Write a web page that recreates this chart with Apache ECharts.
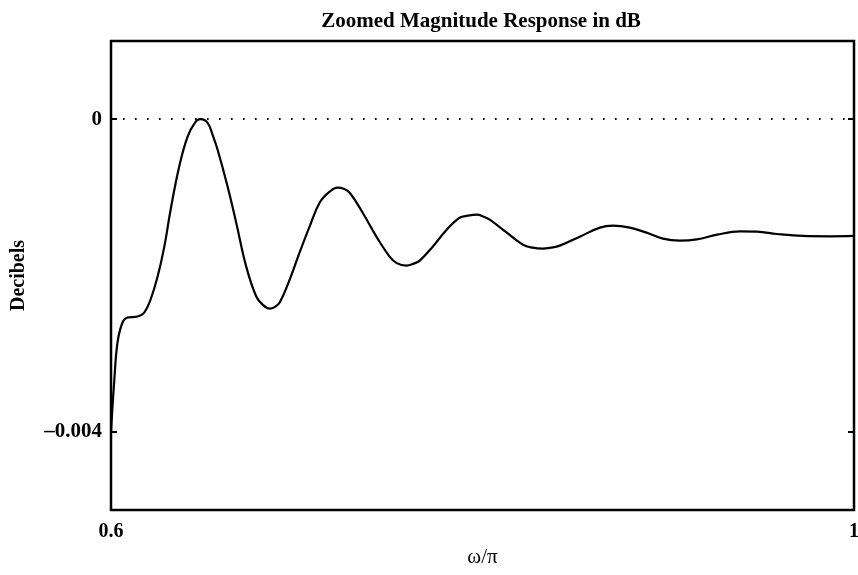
<!DOCTYPE html>
<html>
<head>
<meta charset="utf-8">
<script src="https://cdn.jsdelivr.net/npm/echarts@6/dist/echarts.min.js"></script>
<style>
  html, body { margin: 0; padding: 0; background: #ffffff; }
  #chart { width: 858px; height: 575px; }
</style>
</head>
<body>
<div id="chart"></div>
<script>
// Normalised frequency (ω/π) samples of the passband edge
const freq = [
  0.6000, 0.6017, 0.6035, 0.6062, 0.6089, 0.6143, 0.6179, 0.6213, 0.6251, 0.6287,
  0.6321, 0.6367, 0.6412, 0.6455, 0.6482, 0.6520, 0.6547, 0.6574, 0.6628, 0.6674,
  0.6728, 0.6782, 0.6816, 0.6854, 0.6881, 0.6908, 0.6962, 0.7015, 0.7069, 0.7123,
  0.7177, 0.7220, 0.7252, 0.7285, 0.7355, 0.7429, 0.7500, 0.7538, 0.7590, 0.7630,
  0.7662, 0.7732, 0.7807, 0.7877, 0.7920, 0.7969, 0.8007, 0.8039, 0.8131, 0.8217,
  0.8270, 0.8324, 0.8368, 0.8416, 0.8524, 0.8632, 0.8702, 0.8793, 0.8883, 0.8971,
  0.9062, 0.9154, 0.9262, 0.9385, 0.9477, 0.9585, 0.9725, 0.9870, 1.0000
];

// Magnitude response in dB at those frequencies
const magDb = [
  -0.004000, -0.003368, -0.002857, -0.002601, -0.002538, -0.002525, -0.002474, -0.002308, -0.002014, -0.001631,
  -0.001158, -0.000609, -0.000226, -0.000034,  0.000000, -0.000047, -0.000201, -0.000392, -0.000865, -0.001324,
  -0.001886, -0.002269, -0.002372, -0.002423, -0.002404, -0.002346, -0.002052, -0.001708, -0.001375, -0.001069,
  -0.000928, -0.000877, -0.000890, -0.000941, -0.001197, -0.001503, -0.001759, -0.001842, -0.001874, -0.001848,
  -0.001810, -0.001631, -0.001414, -0.001261, -0.001235, -0.001222, -0.001248, -0.001286, -0.001452, -0.001605,
  -0.001644, -0.001656, -0.001644, -0.001618, -0.001503, -0.001388, -0.001363, -0.001388, -0.001452, -0.001529,
  -0.001554, -0.001538, -0.001478, -0.001436, -0.001439, -0.001469, -0.001494, -0.001499, -0.001494
];

const xTicks = [0.6, 1];
const yTicks = [-0.004, 0];

const serif = '"Liberation Serif", "Times New Roman", serif';

function fmtTick(v) {
  return v < 0 ? '\u2013' + String(Math.abs(v)) : String(v);
}

const chart = echarts.init(document.getElementById('chart'), null, { renderer: 'canvas' });

const tickStyle = { color: '#000', width: 2 };

chart.setOption({
  backgroundColor: '#ffffff',
  animation: false,
  title: {
    text: 'Zoomed Magnitude Response in dB',
    left: 476,
    top: 6,
    textAlign: 'center',
    textStyle: { fontFamily: serif, fontWeight: 'bold', fontSize: 21, color: '#000' }
  },
  grid: {
    left: 111, right: 4, top: 41, bottom: 65,
    outerBoundsMode: 'none',
    containLabel: false,
    show: true, borderColor: '#000', borderWidth: 2.5, backgroundColor: 'transparent'
  },
  xAxis: {
    type: 'value',
    min: 0.6, max: 1,
    name: 'ω/π',
    nameLocation: 'middle',
    nameGap: 34,
    nameTextStyle: { fontFamily: serif, fontSize: 21, color: '#000' },
    axisLine: { show: false },
    axisTick: { show: false, customValues: xTicks },
    splitLine: { show: false },
    axisLabel: {
      customValues: xTicks,
      margin: 12,
      formatter: fmtTick,
      fontFamily: serif, fontWeight: 'bold', fontSize: 20, color: '#000'
    }
  },
  yAxis: [
    {
      type: 'value',
      min: -0.005, max: 0.001,
      name: 'Decibels',
      nameLocation: 'middle',
      nameGap: 82,
      nameRotate: 90,
      nameTextStyle: { fontFamily: serif, fontWeight: 'bold', fontSize: 20, color: '#000' },
      axisLine: { show: false },
      axisTick: { show: true, inside: true, length: 6, customValues: yTicks, lineStyle: tickStyle },
      splitLine: { show: false },
      axisLabel: {
        customValues: yTicks,
        margin: 9,
        formatter: fmtTick,
        fontFamily: serif, fontWeight: 'bold', fontSize: 21, color: '#000'
      }
    },
    {
      type: 'value',
      position: 'right',
      min: -0.005, max: 0.001,
      axisLine: { show: false },
      axisTick: { show: true, inside: true, length: 6, customValues: yTicks, lineStyle: tickStyle },
      splitLine: { show: false },
      axisLabel: { show: false }
    }
  ],
  series: [
    {
      type: 'line',
      data: freq.map((f, i) => [f, magDb[i]]),
      smooth: 0.4,
      showSymbol: false,
      lineStyle: { color: '#000', width: 2.2 },
      markLine: {
        silent: true,
        symbol: 'none',
        label: { show: false },
        lineStyle: { color: '#000', width: 1.5, type: [1.5, 10.5], opacity: 1 },
        data: yTicks.map(v => ({ yAxis: v }))
      },
      z: 3
    }
  ]
});
</script>
</body>
</html>
